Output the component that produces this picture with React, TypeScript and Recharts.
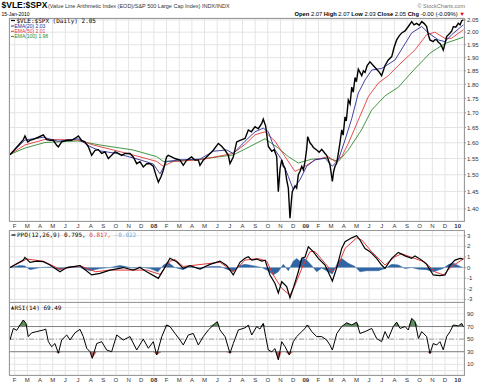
import React from 'react';
import { ComposedChart, Line, Area, XAxis, YAxis, CartesianGrid, ReferenceLine } from 'recharts';

// x = months since 1 Jan 2007 (fractional)
const monthTicks = [1, 2, 3, 4, 5, 6, 7, 8, 9, 10, 11, 12, 13, 14, 15, 16, 17, 18, 19, 20, 21, 22, 23, 24, 25, 26, 27, 28, 29, 30, 31, 32, 33, 34, 35, 36];
const monthLabels = ['F', 'M', 'A', 'M', 'J', 'J', 'A', 'S', 'O', 'N', 'D', '08', 'F', 'M', 'A', 'M', 'J', 'J', 'A', 'S', 'O', 'N', 'D', '09', 'F', 'M', 'A', 'M', 'J', 'J', 'A', 'S', 'O', 'N', 'D', '10'];
const priceTicks = [1.4, 1.45, 1.5, 1.55, 1.6, 1.65, 1.7, 1.75, 1.8, 1.85, 1.9, 1.95, 2.0, 2.05];
const ppoTicks = [-3, -2, -1, 0, 1, 2, 3];
const rsiTicks = [0, 10, 20, 30, 40, 50, 60, 70, 80, 90, 100];
const rsiLabelled = [10, 30, 50, 70, 90];

const price: [number, number][] = [
  [0.63, 1.562], [1.42, 1.598], [1.68, 1.61], [1.81, 1.622], [2.03, 1.603], [2.21, 1.608], [2.47, 1.611],
  [2.87, 1.618], [3.26, 1.626], [3.53, 1.61], [3.79, 1.608], [4.05, 1.608], [4.32, 1.592], [4.45, 1.587],
  [4.71, 1.603], [5.11, 1.608], [5.5, 1.608], [5.76, 1.614], [6.03, 1.622], [6.29, 1.608], [6.55, 1.603],
  [6.82, 1.587], [7.08, 1.56], [7.35, 1.576], [7.61, 1.578], [7.87, 1.566], [8.14, 1.571], [8.4, 1.55],
  [8.66, 1.56], [8.93, 1.571], [9.19, 1.566], [9.45, 1.56], [9.72, 1.566], [10.11, 1.566], [10.37, 1.555],
  [10.64, 1.534], [10.9, 1.54], [11.16, 1.524], [11.43, 1.534], [11.69, 1.534], [11.95, 1.526], [12.16, 1.499],
  [12.35, 1.478], [12.56, 1.494], [12.74, 1.514], [13.0, 1.555], [13.13, 1.56], [13.4, 1.555], [13.66, 1.55],
  [14.06, 1.545], [14.32, 1.529], [14.59, 1.545], [14.98, 1.555], [15.24, 1.545], [15.51, 1.545], [15.64, 1.529],
  [15.9, 1.545], [16.3, 1.56], [16.69, 1.576], [17.09, 1.598], [17.35, 1.589], [17.62, 1.576], [17.88, 1.56],
  [18.01, 1.534], [18.27, 1.555], [18.54, 1.603], [18.8, 1.608], [19.2, 1.614], [19.46, 1.642], [19.7, 1.636],
  [19.99, 1.653], [20.25, 1.646], [20.52, 1.664], [20.64, 1.678], [20.83, 1.655], [21.04, 1.588], [21.31, 1.573],
  [21.5, 1.578], [21.7, 1.556], [21.83, 1.45], [21.97, 1.52], [22.1, 1.546], [22.22, 1.526], [22.36, 1.52],
  [22.49, 1.485], [22.62, 1.46], [22.75, 1.374], [22.88, 1.43], [22.93, 1.45], [23.15, 1.467], [23.28, 1.46],
  [23.41, 1.5], [23.54, 1.51], [23.68, 1.526], [23.81, 1.515], [23.94, 1.541], [24.07, 1.58], [24.15, 1.62],
  [24.33, 1.6], [24.47, 1.593], [24.6, 1.585], [24.86, 1.577], [25.06, 1.57], [25.26, 1.579], [25.52, 1.566],
  [25.65, 1.56], [25.78, 1.546], [25.91, 1.53], [26.1, 1.48], [26.2, 1.51], [26.31, 1.526], [26.44, 1.535],
  [26.57, 1.566], [26.7, 1.6], [26.84, 1.642], [26.95, 1.625], [27.1, 1.686], [27.2, 1.672], [27.36, 1.744],
  [27.5, 1.73], [27.63, 1.79], [27.75, 1.772], [27.89, 1.825], [28.0, 1.81], [28.15, 1.856], [28.42, 1.832],
  [28.55, 1.85], [28.68, 1.844], [28.85, 1.87], [29.07, 1.884], [29.33, 1.87], [29.6, 1.856], [29.8, 1.845],
  [29.99, 1.832], [30.26, 1.87], [30.52, 1.891], [30.79, 1.904], [30.98, 1.94], [31.18, 1.969], [31.38, 1.985],
  [31.58, 1.997], [31.84, 2.005], [32.1, 2.023], [32.37, 2.043], [32.55, 2.03], [32.76, 2.036], [32.96, 2.028],
  [33.16, 2.043], [33.36, 2.035], [33.55, 2.023], [33.68, 1.99], [33.81, 1.969], [34.07, 1.962], [34.2, 1.97],
  [34.34, 1.969], [34.47, 1.96], [34.6, 1.955], [34.73, 1.945], [34.86, 1.929], [35.0, 1.955], [35.13, 1.982],
  [35.27, 1.99], [35.4, 1.997], [35.53, 2.005], [35.66, 2.023], [35.85, 2.02], [36.05, 2.036], [36.19, 2.03],
  [36.32, 2.047], [36.45, 2.05],
];

const ema20: [number, number][] = [
  [0.63, 1.563], [1.81, 1.609], [3.26, 1.618], [4.42, 1.605], [6.0, 1.613], [6.95, 1.588], [7.74, 1.574],
  [9.06, 1.566], [10.9, 1.546], [11.95, 1.533], [12.48, 1.503], [13.01, 1.541], [14.06, 1.546], [15.64, 1.548],
  [16.69, 1.573], [17.75, 1.577], [18.27, 1.566], [19.2, 1.605], [19.99, 1.636], [20.64, 1.648], [21.04, 1.636],
  [21.57, 1.577], [22.1, 1.546], [22.62, 1.495], [23.01, 1.456], [23.54, 1.485], [24.07, 1.526], [24.73, 1.546],
  [25.52, 1.551], [26.1, 1.526], [26.57, 1.546], [27.1, 1.609], [27.63, 1.68], [28.15, 1.769], [28.68, 1.816],
  [29.21, 1.853], [30.0, 1.859], [31.05, 1.891], [32.37, 1.997], [33.16, 2.023], [33.68, 1.997], [34.47, 1.969],
  [35.0, 1.962], [35.53, 1.99], [36.45, 2.03],
];

const ema50: [number, number][] = [
  [0.63, 1.563], [1.81, 1.593], [3.39, 1.611], [6.03, 1.609], [7.21, 1.593], [10.37, 1.561], [12.22, 1.541],
  [12.74, 1.526], [13.53, 1.541], [15.64, 1.546], [18.25, 1.566], [19.2, 1.595], [19.99, 1.626], [20.78, 1.636],
  [21.57, 1.605], [22.36, 1.556], [23.15, 1.51], [23.94, 1.526], [24.73, 1.546], [25.78, 1.556], [26.31, 1.541],
  [26.84, 1.556], [27.36, 1.598], [28.15, 1.675], [28.94, 1.756], [29.73, 1.805], [30.52, 1.832], [31.31, 1.87],
  [32.63, 1.93], [33.55, 1.99], [34.2, 2.0], [35.0, 1.975], [35.5, 1.975], [36.45, 2.01],
];

const ema100: [number, number][] = [
  [0.63, 1.563], [1.81, 1.583], [3.39, 1.601], [6.0, 1.606], [7.74, 1.593], [10.35, 1.577], [12.22, 1.556],
  [12.74, 1.541], [13.53, 1.541], [15.64, 1.548], [18.25, 1.561], [19.2, 1.58], [20.78, 1.613], [21.83, 1.583],
  [22.62, 1.556], [23.41, 1.536], [24.47, 1.548], [25.78, 1.551], [26.57, 1.541], [27.36, 1.577], [28.4, 1.642],
  [29.2, 1.709], [30.26, 1.759], [31.31, 1.79], [32.47, 1.85], [33.81, 1.917], [35.0, 1.955], [36.45, 1.98],
];

const ppo: [number, number][] = [
  [0.63, 0], [1.68, 0.7], [1.81, 0.96], [2.21, 0.49], [2.74, 0.6], [3.26, 0.55], [3.79, 0.24], [4.58, -0.4],
  [5.11, 0], [6.16, 0.17], [7.08, -0.7], [7.74, -0.55], [8.53, -0.24], [9.58, 0], [10.37, -0.24], [10.9, 0],
  [11.43, -0.4], [12.35, -1.02], [12.74, -0.24], [13.27, 0.87], [13.8, 0.55], [14.32, -0.08], [14.85, 0.17],
  [15.64, -0.14], [16.43, 0.3], [17.22, 0.61], [17.75, 0.2], [18.27, -0.7], [18.8, 0.49], [19.2, 0.87],
  [19.46, 1.02], [19.73, 0.7], [20.12, 0.8], [20.52, 0.61], [20.78, 0.7], [21.17, -0.7], [21.57, -1.5],
  [21.83, -2.4], [22.1, -1.34], [22.49, -1.8], [22.75, -2.85], [23.01, -1.96], [23.41, -0.4], [23.68, 0.87],
  [23.94, 1.0], [24.2, 1.96], [24.59, 1.5], [24.99, 0.87], [25.52, 0.24], [26.1, -1.27], [26.45, 0],
  [26.84, 1.8], [27.1, 2.43], [27.63, 2.8], [28.02, 3.0], [28.28, 2.6], [28.68, 1.8], [29.07, 1.5],
  [29.6, 0.87], [29.99, 0.24], [30.26, -0.08], [30.79, 0.87], [31.31, 1.43], [31.84, 1.1], [32.37, 0.87],
  [32.63, 1.1], [33.16, 0.7], [33.55, 0.3], [34.07, -0.7], [34.6, -0.77], [35.0, -0.7], [35.4, 0.24],
  [35.79, 0.7], [36.19, 0.87], [36.45, 0.795],
];

const ppoSignal: [number, number][] = [
  [0.63, 0], [1.95, 0.8], [3.26, 0.6], [4.58, -0.17], [6.16, 0.17], [7.4, -0.4], [8.53, -0.24], [11.43, -0.24],
  [12.48, -0.64], [13.27, 0.6], [13.66, 0.75], [14.32, 0.1], [17.22, 0.5], [18.27, -0.4], [19.2, 0.7],
  [20.25, 0.85], [20.91, 0.6], [21.43, -0.7], [22.1, -1.96], [22.75, -2.6], [23.15, -1.65], [23.8, 0.24],
  [24.33, 1.5], [24.73, 1.5], [25.52, 0.4], [26.1, -0.4], [26.57, 0.24], [27.1, 1.8], [28.02, 2.8],
  [28.42, 2.6], [29.2, 1.5], [30.26, 0.24], [31.05, 1.02], [31.58, 1.3], [32.37, 0.96], [33.42, 0.5],
  [34.2, -0.4], [34.87, -0.7], [35.53, 0.1], [36.45, 0.817],
];

const ppoHist: [number, number][] = [
  [0.63, 0], [1.42, 0.2], [1.81, 0.15], [2.21, -0.2], [3.0, 0], [3.79, 0.05], [4.58, -0.2], [5.37, 0.1],
  [6.16, 0], [6.95, -0.3], [7.74, -0.1], [8.53, 0], [9.32, 0.2], [10.35, -0.05], [10.9, 0.05], [11.69, -0.1],
  [12.32, -0.4], [12.72, 0.2], [13.11, 0.5], [13.66, 0], [14.3, -0.2], [14.85, 0.1], [15.64, -0.1],
  [16.43, 0.1], [17.22, 0.1], [17.85, -0.2], [18.25, -0.35], [18.8, 0.2], [19.2, 0.3], [19.73, 0.2],
  [20.52, 0], [21.04, -0.3], [21.43, -0.7], [21.83, -0.4], [22.22, 0.3], [22.62, -0.3], [23.01, 0.6],
  [23.28, 0.85], [23.54, 0.6], [23.8, 0.9], [24.07, 0.7], [24.47, 0.2], [24.86, -0.4], [25.26, -0.05],
  [25.78, -0.4], [26.1, -0.6], [26.57, 0.6], [26.84, 0.85], [27.36, 0.4], [27.89, 0.1], [28.28, -0.4],
  [28.81, -0.3], [29.73, -0.3], [30.26, -0.1], [30.79, 0.3], [31.31, 0.25], [31.84, -0.1], [32.37, 0],
  [32.9, -0.15], [33.55, -0.2], [34.07, -0.4], [34.84, -0.1], [35.3, 0.3], [35.69, 0.4], [36.19, 0.1],
  [36.45, -0.02],
];

const rsi: [number, number][] = [
  [0.63, 48.6], [0.89, 67], [1.16, 64], [1.42, 72.5], [1.68, 80.4], [1.89, 75], [2.07, 54], [2.34, 60],
  [2.74, 62], [3.26, 64.5], [3.45, 66], [3.66, 46], [3.92, 38], [4.18, 43], [4.45, 27.5], [4.71, 48.6],
  [5.11, 56.6], [5.37, 48.6], [5.76, 60], [6.16, 65.6], [6.42, 54], [6.69, 35.5], [6.95, 30], [7.13, 19.5],
  [7.48, 43], [7.87, 46], [8.27, 32.7], [8.66, 30], [9.06, 56.6], [9.58, 48.6], [10.11, 54], [10.64, 32.7],
  [11.16, 50], [11.56, 35.5], [11.95, 46], [12.22, 24.8], [12.62, 54], [13.01, 72.5], [13.27, 70], [13.67, 59],
  [14.06, 48.6], [14.32, 40.7], [14.72, 56.6], [15.11, 59], [15.51, 40.7], [15.9, 54], [16.3, 64.5],
  [16.83, 75], [17.01, 77.7], [17.22, 64.5], [17.62, 54], [18.01, 27.5], [18.27, 43], [18.67, 64.5],
  [19.2, 68], [19.46, 72], [19.73, 56.6], [20.12, 70], [20.38, 66], [20.64, 75], [20.83, 54], [21.04, 32.7],
  [21.31, 30], [21.57, 35], [21.83, 17], [22.1, 46], [22.36, 38], [22.7, 24.8], [23.01, 46], [23.28, 54],
  [23.68, 62], [23.94, 67], [24.12, 72.5], [24.47, 62], [24.86, 54], [25.26, 54], [25.65, 48.6], [25.91, 40.7],
  [26.1, 32.7], [26.45, 59], [26.84, 70], [27.23, 76], [27.63, 72.5], [28.02, 77], [28.28, 59], [28.68, 62],
  [29.21, 67], [29.6, 51], [29.99, 46], [30.26, 62], [30.52, 51], [30.91, 70], [31.18, 77], [31.45, 67],
  [31.84, 70], [32.1, 64.5], [32.37, 83], [32.63, 77.7], [32.9, 51], [33.16, 62], [33.55, 54], [33.81, 27],
  [34.07, 43], [34.34, 40.7], [34.6, 46], [34.86, 33], [35.13, 54], [35.4, 62], [35.66, 72.5], [36.05, 71],
  [36.32, 75], [36.45, 69.5],
];

const pts = (a: [number, number][]) => a.map(([t, v]) => ({ t, v }));
const rsiHigh = rsi.map(([t, v]) => ({ t, v: Math.max(v, 70) }));
const rsiLow = rsi.map(([t, v]) => ({ t, v: Math.min(v, 30) }));

const SANS = 'Liberation Sans, Arial, sans-serif';
const MONO = 'DejaVu Sans Mono, Liberation Mono, monospace';
const GRID = '#e4e4e4';
const BORDER = '#9a9a9a';
const X_DOMAIN: [number, number] = [0.55, 36.5];

const MonthTick = ({ x, y, payload }: any) => {
  const label = monthLabels[payload.value - 1];
  const year = /\d/.test(label);
  return (
    <text x={x} y={y + 7} textAnchor="middle" fontSize={6} fontFamily={SANS} fontWeight={year ? 'bold' : 'normal'} fill="#333">
      {label}
    </text>
  );
};

const axisTick = { fontSize: 6, fill: '#333', fontFamily: SANS };

const Panel = ({ top, height }: { top: number; height: number }) => (
  <div style={{ position: 'absolute', left: 9, top, width: 456, height: height + 1, boxSizing: 'border-box', border: `1px solid ${BORDER}`, pointerEvents: 'none' }} />
);

export default function App() {
  return (
    <div style={{ position: 'absolute', left: 0, top: 0, width: 489, height: 385, background: '#fff', overflow: 'hidden' }}>
      {/* price panel */}
      <div style={{ position: 'absolute', left: 0, top: 0 }}>
        <ComposedChart width={489} height={233} margin={{ top: 18, right: 0, bottom: 0, left: 9 }}>
          <CartesianGrid stroke={GRID} />
          <XAxis dataKey="t" type="number" domain={X_DOMAIN} ticks={monthTicks} interval={0} allowDataOverflow height={12}
            tick={<MonthTick />} tickSize={0} tickMargin={0} axisLine={false} tickLine={false} />
          <YAxis orientation="right" width={25} type="number" scale="log" domain={[1.3665, 2.058]} allowDataOverflow
            ticks={priceTicks} interval={0} tickFormatter={(v: number) => v.toFixed(2)} tick={axisTick}
            tickSize={2} tickMargin={1} axisLine={false} tickLine={{ stroke: BORDER }} />
          <Line data={pts(ema100)} dataKey="v" stroke="#2f8a2f" strokeWidth={0.9} dot={false} isAnimationActive={false} />
          <Line data={pts(ema50)} dataKey="v" stroke="#e23a3a" strokeWidth={0.9} dot={false} isAnimationActive={false} />
          <Line data={pts(ema20)} dataKey="v" stroke="#2c2c9a" strokeWidth={0.9} dot={false} isAnimationActive={false} />
          <Line data={pts(price)} dataKey="v" stroke="#000" strokeWidth={1.4} dot={false} isAnimationActive={false} />
        </ComposedChart>
      </div>

      {/* PPO panel */}
      <div style={{ position: 'absolute', left: 0, top: 230 }}>
        <ComposedChart width={489} height={72} margin={{ top: 0, right: 0, bottom: 0, left: 9 }}>
          <CartesianGrid stroke={GRID} />
          <XAxis dataKey="t" type="number" domain={X_DOMAIN} ticks={monthTicks} interval={0} allowDataOverflow hide />
          <YAxis orientation="right" width={25} type="number" domain={[-3.25, 3.54]} allowDataOverflow ticks={ppoTicks}
            interval={0} tick={axisTick} tickSize={2} tickMargin={1} axisLine={false} tickLine={{ stroke: BORDER }} />
          <Area data={pts(ppoHist)} dataKey="v" baseValue={0} type="linear" fill="#2f66a3" fillOpacity={1} stroke="#2f66a3"
            strokeWidth={0.5} isAnimationActive={false} />
          <Line data={pts(ppoSignal)} dataKey="v" stroke="#e23a3a" strokeWidth={1} dot={false} isAnimationActive={false} />
          <Line data={pts(ppo)} dataKey="v" stroke="#000" strokeWidth={1.2} dot={false} isAnimationActive={false} />
        </ComposedChart>
      </div>

      {/* RSI panel */}
      <div style={{ position: 'absolute', left: 0, top: 302 }}>
        <ComposedChart width={489} height={83} margin={{ top: 0, right: 0, bottom: 0, left: 9 }}>
          <CartesianGrid stroke={GRID} />
          <XAxis dataKey="t" type="number" domain={X_DOMAIN} ticks={monthTicks} interval={0} allowDataOverflow height={10}
            tick={<MonthTick />} tickSize={0} tickMargin={0} axisLine={false} tickLine={false} />
          <YAxis orientation="right" width={25} type="number" domain={[-7, 109]} allowDataOverflow ticks={rsiTicks}
            interval={0} tickFormatter={(v: number) => (rsiLabelled.includes(v) ? String(v) : '')} tick={axisTick}
            tickSize={2} tickMargin={1} axisLine={false} tickLine={false} />
          <ReferenceLine y={70} stroke="#808080" strokeWidth={1} />
          <ReferenceLine y={30} stroke="#808080" strokeWidth={1} />
          <ReferenceLine y={50} stroke="#a0a0a0" strokeWidth={1} strokeDasharray="5 2 1 2" />
          <Area data={rsiHigh} dataKey="v" baseValue={70} type="linear" fill="#5c8f5c" fillOpacity={1} stroke="none" isAnimationActive={false} />
          <Area data={rsiLow} dataKey="v" baseValue={30} type="linear" fill="#b95f5f" fillOpacity={1} stroke="none" isAnimationActive={false} />
          <Line data={pts(rsi)} dataKey="v" stroke="#000" strokeWidth={1} dot={false} isAnimationActive={false} />
        </ComposedChart>
      </div>

      <Panel top={18} height={203} />
      <Panel top={230} height={72} />
      <Panel top={302} height={73} />

      {/* titles and legends */}
      <svg width={489} height={385} style={{ position: 'absolute', left: 0, top: 0, pointerEvents: 'none' }}>
        <text x={1.5} y={8.3} fontSize={8.5} fontWeight="bold" fontFamily={SANS} fill="#000">$VLE:$SPX</text>
        <text x={48} y={8} fontSize={5.5} fontFamily={SANS} fill="#333">
          (Value Line Arithmetic Index (EOD)/S&amp;P 500 Large Cap Index) INDX/INDX
        </text>
        <text x={1.5} y={15.5} fontSize={5} fontFamily={SANS} fill="#000">15-Jan-2010</text>
        <text x={465} y={7.5} fontSize={5.5} textAnchor="end" fontFamily={SANS} fill="#777">© StockCharts.com</text>
        <text x={465} y={15.5} fontSize={5.8} textAnchor="end" fontFamily={SANS} fill="#000">
          <tspan fontWeight="bold">Open</tspan> 2.07 <tspan fontWeight="bold">High</tspan> 2.07{' '}
          <tspan fontWeight="bold">Low</tspan> 2.03 <tspan fontWeight="bold">Close</tspan> 2.05{' '}
          <tspan fontWeight="bold">Chg</tspan> -0.00 (-0.09%) <tspan fill="#d00">▼</tspan>
        </text>

        <line x1={11} x2={15} y1={20.5} y2={20.5} stroke="#000" strokeWidth={1.2} />
        <text x={16.5} y={22.5} fontSize={6} fontFamily={MONO} fill="#000">$VLE:$SPX (Daily) 2.05</text>
        <line x1={11} x2={14} y1={26} y2={26} stroke="#2c2c9a" strokeWidth={1} />
        <text x={14.5} y={27.8} fontSize={5} fontFamily={SANS} fill="#2c2c9a">EMA(20) 2.03</text>
        <line x1={11} x2={14} y1={31.3} y2={31.3} stroke="#e23a3a" strokeWidth={1} />
        <text x={14.5} y={33.1} fontSize={5} fontFamily={SANS} fill="#e23a3a">EMA(50) 2.01</text>
        <line x1={11} x2={14} y1={36.6} y2={36.6} stroke="#2f8a2f" strokeWidth={1} />
        <text x={14.5} y={38.4} fontSize={5} fontFamily={SANS} fill="#2f8a2f">EMA(100) 1.98</text>

        <line x1={11.5} x2={15.5} y1={235} y2={235} stroke="#000" strokeWidth={1.2} />
        <text x={17} y={237} fontSize={6} fontFamily={MONO} fill="#000">
          PPO(12,26,9) 0.795, <tspan fill="#e23a3a">0.817,</tspan> <tspan fill="#6fa8dc">-0.022</tspan>
        </text>

        <path d="M11 309.5 L12.6 305.5 L14.2 309.5 Z" fill="#333" />
        <text x={14.5} y={309.5} fontSize={6} fontFamily={MONO} fill="#000">RSI(14) 69.49</text>
      </svg>
    </div>
  );
}
